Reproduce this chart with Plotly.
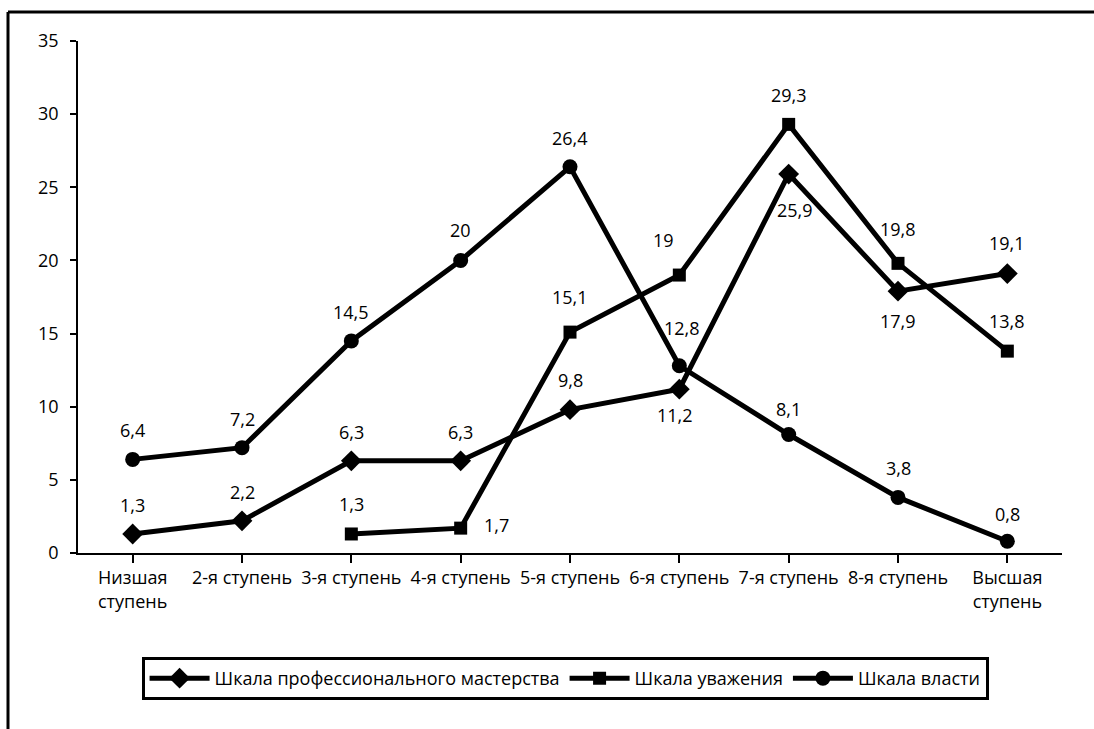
import plotly.graph_objects as go

categories = ["Низшая<br>ступень", "2-я ступень", "3-я ступень", "4-я ступень", "5-я ступень",
              "6-я ступень", "7-я ступень", "8-я ступень", "Высшая<br>ступень"]
mastery = [1.3, 2.2, 6.3, 6.3, 9.8, 11.2, 25.9, 17.9, 19.1]
respect = [None, None, 1.3, 1.7, 15.1, 19, 29.3, 19.8, 13.8]
power = [6.4, 7.2, 14.5, 20, 26.4, 12.8, 8.1, 3.8, 0.8]
names = ["Шкала профессионального мастерства", "Шкала уважения", "Шкала власти"]

# label offsets (style): (xshift, yshift) in px per point
mastery_off = [(0, 29), (0, 29), (0, 29), (0, 29), (0, 30), (-4, -26), (6, -36), (0, -30), (0, 31)]
respect_off = [None, None, (0, 30), (36, 3), (0, 35), (-16, 35), (0, 29), (0, 34), (0, 30)]
power_off = [(0, 29), (0, 29), (0, 29), (0, 30), (0, 29), (3, 38), (0, 26), (0, 29), (0, 27)]

FONT = "Open Sans"
FS = 18
fig = go.Figure()
series = [(mastery, "diamond", 16, mastery_off), (respect, "square", 13, respect_off),
          (power, "circle", 15, power_off)]
annotations = []
for (vals, sym, msize, offs), name in zip(series, names):
    fig.add_trace(go.Scatter(
        x=list(range(len(categories))), y=vals, name=name, mode="lines+markers",
        line=dict(color="black", width=5), connectgaps=False,
        marker=dict(symbol=sym, size=msize, color="black"),
    ))
    for i, v in enumerate(vals):
        if v is None:
            continue
        dx, dy = offs[i]
        annotations.append(dict(
            x=i, y=v, xref="x", yref="y", text=(f"{v:g}").replace(".", ","),
            showarrow=False, xshift=dx, yshift=dy,
            font=dict(family=FONT, size=FS, color="black")))

fig.update_layout(
    width=1094, height=729,
    margin=dict(l=78, r=32, t=41, b=176),
    paper_bgcolor="white", plot_bgcolor="white",
    font=dict(family=FONT, size=FS, color="black"),
    annotations=annotations,
    showlegend=True,
    legend=dict(orientation="h", x=0.495, xanchor="center", y=-0.245, yanchor="middle",
                bordercolor="black", borderwidth=3, font=dict(family=FONT, size=FS),
                itemwidth=60),
    xaxis=dict(range=[-0.5, 8.5], tickmode="array", tickvals=list(range(len(categories))),
               ticktext=categories, showline=True, linecolor="black", linewidth=1.5,
               ticks="outside", ticklen=8, tickcolor="black", tickwidth=1.5,
               showgrid=False, zeroline=False, tickson="boundaries"),
    yaxis=dict(range=[0, 35], dtick=5, showline=True, linecolor="black", linewidth=1.5,
               ticks="outside", ticklen=6, tickcolor="black", tickwidth=1.5,
               showgrid=False, zeroline=False, ticklabelstandoff=8),
    shapes=[
        dict(type="line", xref="paper", yref="paper",
             x0=(8 - 78) / 984, x1=(1094 - 78) / 984, y0=(553 - 12) / 512, y1=(553 - 12) / 512,
             line=dict(color="black", width=3)),
        dict(type="line", xref="paper", yref="paper",
             x0=(8 - 78) / 984, x1=(8 - 78) / 984, y0=(553 - 12) / 512, y1=(553 - 729) / 512,
             line=dict(color="black", width=3)),
    ],
)

fig.write_html("out.html", config={"displayModeBar": False},
               post_script="document.body.style.margin='0';")
